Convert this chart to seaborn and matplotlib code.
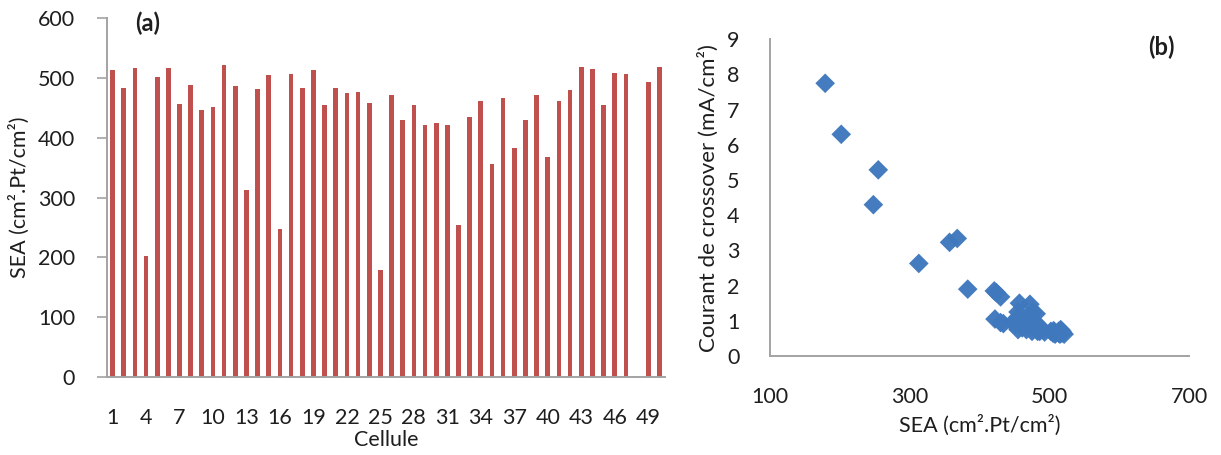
import numpy as np
import pandas as pd
import matplotlib
matplotlib.use("Agg")
import matplotlib.pyplot as plt
import seaborn as sns

# Surface électrochimique active (SEA) par cellule; la cellule 48 n'a pas de mesure
cellules = list(range(1, 51))
sea = [513, 484, 516, 202, 502, 516, 457, 488, 447, 451,
       521, 486, 313, 481, 505, 248, 506, 484, 513, 455,
       483, 475, 476, 459, 179, 472, 430, 455, 421, 424,
       422, 255, 434, 461, 357, 467, 383, 430, 471, 368,
       461, 480, 518, 515, 455, 508, 506, np.nan, 493, 518]

# Courant de crossover mesuré sur les mêmes cellules (mA/cm²)
courant = [0.70, 0.75, 0.75, 6.30, 0.70, 0.68, 1.50, 0.80, 0.95, 0.90,
           0.62, 0.70, 2.63, 1.20, 0.65, 4.30, 0.72, 0.85, 0.65, 1.25,
           0.70, 0.70, 1.25, 0.85, 7.75, 1.47, 1.68, 1.10, 1.85, 1.80,
           1.05, 5.29, 0.92, 0.80, 3.23, 0.75, 1.90, 0.95, 1.05, 3.34,
           1.00, 0.95, 0.70, 0.62, 0.75, 0.62, 0.66, np.nan, 0.68, 0.65]

tick_cellules = cellules[::3]
y_ticks_a = [0, 100, 200, 300, 400, 500, 600]
y_ticks_b = list(range(0, 10))
x_ticks_b = [100, 300, 500, 700]

df = pd.DataFrame({"Cellule": cellules, "SEA": sea, "Courant": courant})

sns.set_style("white")
plt.rcParams["font.family"] = ["Lato", "DejaVu Sans"]

TEXT = "#1e1e1e"
AXIS = "#a3a3a3"
RED = "#c0504d"
BLUE = "#3f78bd"
FS = 15.5

fig = plt.figure(figsize=(12.21, 4.55), dpi=100)
ax1 = fig.add_axes([0.0876, 0.1714, 0.457, 0.7886])
ax2 = fig.add_axes([0.6306, 0.2176, 0.3434, 0.696])

# (a) histogramme de la SEA par cellule
sns.barplot(data=df, x="Cellule", y="SEA", order=cellules, color=RED,
            width=0.42, saturation=1, linewidth=0, ax=ax1)
for bar in ax1.patches:
    cx = bar.get_x() + bar.get_width() / 2
    bar.set_width(0.42)
    bar.set_x(cx - 0.21)
ax1.set_xlim(-0.5, len(cellules) - 0.5)
ax1.set_ylim(0, 600)
ax1.set_yticks(y_ticks_a)
ax1.set_xticks([cellules.index(c) for c in tick_cellules])
ax1.set_xticklabels([str(c) for c in tick_cellules])
ax1.tick_params(axis="y", length=7, width=1.2, color=AXIS, pad=16,
                labelsize=FS, labelcolor=TEXT, direction="out", left=True)
ax1.tick_params(axis="x", length=0, pad=22, labelsize=FS, labelcolor=TEXT)
ax1.set_xlabel("Cellule", fontsize=FS, color=TEXT, labelpad=2)
ax1.set_ylabel("SEA (cm².Pt/cm²)", fontsize=FS, color=TEXT, labelpad=6)
for side in ("top", "right"):
    ax1.spines[side].set_visible(False)
for side in ("left", "bottom"):
    ax1.spines[side].set_color(AXIS)
    ax1.spines[side].set_linewidth(1.4)
ax1.text(0.05, 0.985, "(a)", transform=ax1.transAxes, fontsize=17,
         fontweight="bold", color=TEXT, ha="left", va="center")

# (b) courant de crossover en fonction de la SEA
sns.scatterplot(data=df, x="SEA", y="Courant", marker="D", s=100,
                color=BLUE, edgecolor="none", alpha=0.97, ax=ax2)
ax2.set_xlim(100, 700)
ax2.set_ylim(0, 9)
ax2.set_xticks(x_ticks_b)
ax2.set_yticks(y_ticks_b)
ax2.tick_params(axis="both", length=0, labelsize=FS, labelcolor=TEXT)
ax2.tick_params(axis="x", pad=22)
ax2.tick_params(axis="y", pad=22)
ax2.set_xlabel("SEA (cm².Pt/cm²)", fontsize=FS, color=TEXT, labelpad=6)
ax2.set_ylabel("Courant de crossover (mA/cm²)", fontsize=FS + 0.5,
               color=TEXT, labelpad=6)
for side in ("top", "right"):
    ax2.spines[side].set_visible(False)
for side in ("left", "bottom"):
    ax2.spines[side].set_color(AXIS)
    ax2.spines[side].set_linewidth(1.4)
ax2.text(0.933, 0.975, "(b)", transform=ax2.transAxes, fontsize=17,
         fontweight="bold", color=TEXT, ha="center", va="center")

fig.savefig("out.png", dpi=100)
